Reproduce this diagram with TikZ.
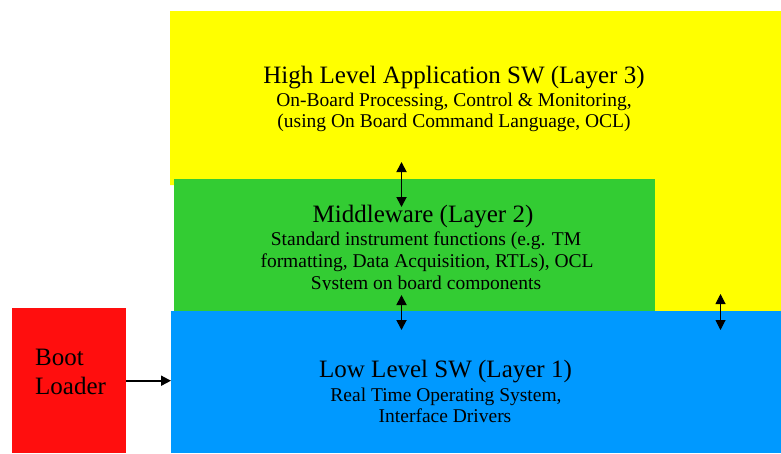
\documentclass[tikz,border=0pt]{standalone}
\usepackage{fontspec}
\setmainfont{Liberation Serif}
\usetikzlibrary{arrows.meta}
\definecolor{layerthree}{RGB}{255,255,0}
\definecolor{layertwo}{RGB}{51,204,51}
\definecolor{layerone}{RGB}{0,153,255}
\definecolor{bootred}{RGB}{255,14,14}
\tikzset{
  layerbox/.style={draw=none, rectangle, inner sep=0pt, anchor=north west},
  head/.style={anchor=base, font=\fontsize{25}{28}\selectfont, inner sep=0pt},
  sub/.style={anchor=base, font=\fontsize{19.5}{22}\selectfont, inner sep=0pt},
  tip/.style={Triangle[length=10pt,width=10pt]},
  link/.style={line width=1.8pt, {Triangle[length=10pt,width=10pt]}-{Triangle[length=10pt,width=10pt]}},
  feed/.style={line width=1.8pt, -{Triangle[length=10pt,width=10pt]}}
}
\begin{document}
\begin{tikzpicture}[x=1pt,y=-1pt]
\useasboundingbox (0,0) rectangle (781,453);

% Layer 3 background: wide upper band that reaches down on the right
\fill[layerthree] (170,11) -- (781,11) -- (781,311) -- (650,311) -- (650,185) -- (170,185) -- cycle;
\node[head] (l3title) at (454,83) {High Level Application SW (Layer 3)};
\node[sub] (l3a) at (454,106.5) {On-Board Processing, Control \& Monitoring,};
\node[sub] (l3b) at (454,127.5) {(using On Board Command Language, OCL)};

% Layer 2
\node[layerbox, fill=layertwo, minimum width=481pt, minimum height=132pt] (mid) at (174,179) {};
\node[head] (l2title) at (423,222) {Middleware (Layer 2)};
\node[sub] (l2a) at (426,245.5) {Standard instrument functions (e.g. TM};
\node[sub] (l2b) at (427,267.5) {formatting, Data Acquisition, RTLs), OCL};
% last line is cut off at its baseline by the text frame
\begin{scope}
  \clip (174,270) rectangle (655,289.5);
  \node[sub] (l2c) at (426,289) {System on board components};
\end{scope}

% Layer 1
\node[layerbox, fill=layerone, minimum width=610pt, minimum height=142pt] (low) at (171,311) {};
\node[head] (l1title) at (445.5,377) {Low Level SW (Layer 1)};
\node[sub] (l1a) at (446,401.5) {Real Time Operating System,};
\node[sub] (l1b) at (445,422.5) {Interface Drivers};

% Boot loader
\node[layerbox, fill=bootred, minimum width=114pt, minimum height=145pt] (boot) at (12,308) {};
\node[head, anchor=base west] (bootA) at (35,365) {Boot};
\node[head, anchor=base west] (bootB) at (35,394) {Loader};

% Interfaces between layers
\coordinate (up32) at (401.5,162);
\coordinate (dn32) at (401.5,207);
\coordinate (up21) at (401.5,295);
\coordinate (dn21) at (401.5,330);
\coordinate (up31) at (720.5,294);
\coordinate (dn31) at (720.5,330);
\draw[link] (up32) -- (dn32);
\draw[link] (up21) -- (dn21);
\draw[link, line width=1pt] (up31) -- (dn31);
\draw[feed] (boot.east) -- (boot.east -| low.west);
\end{tikzpicture}
\end{document}
